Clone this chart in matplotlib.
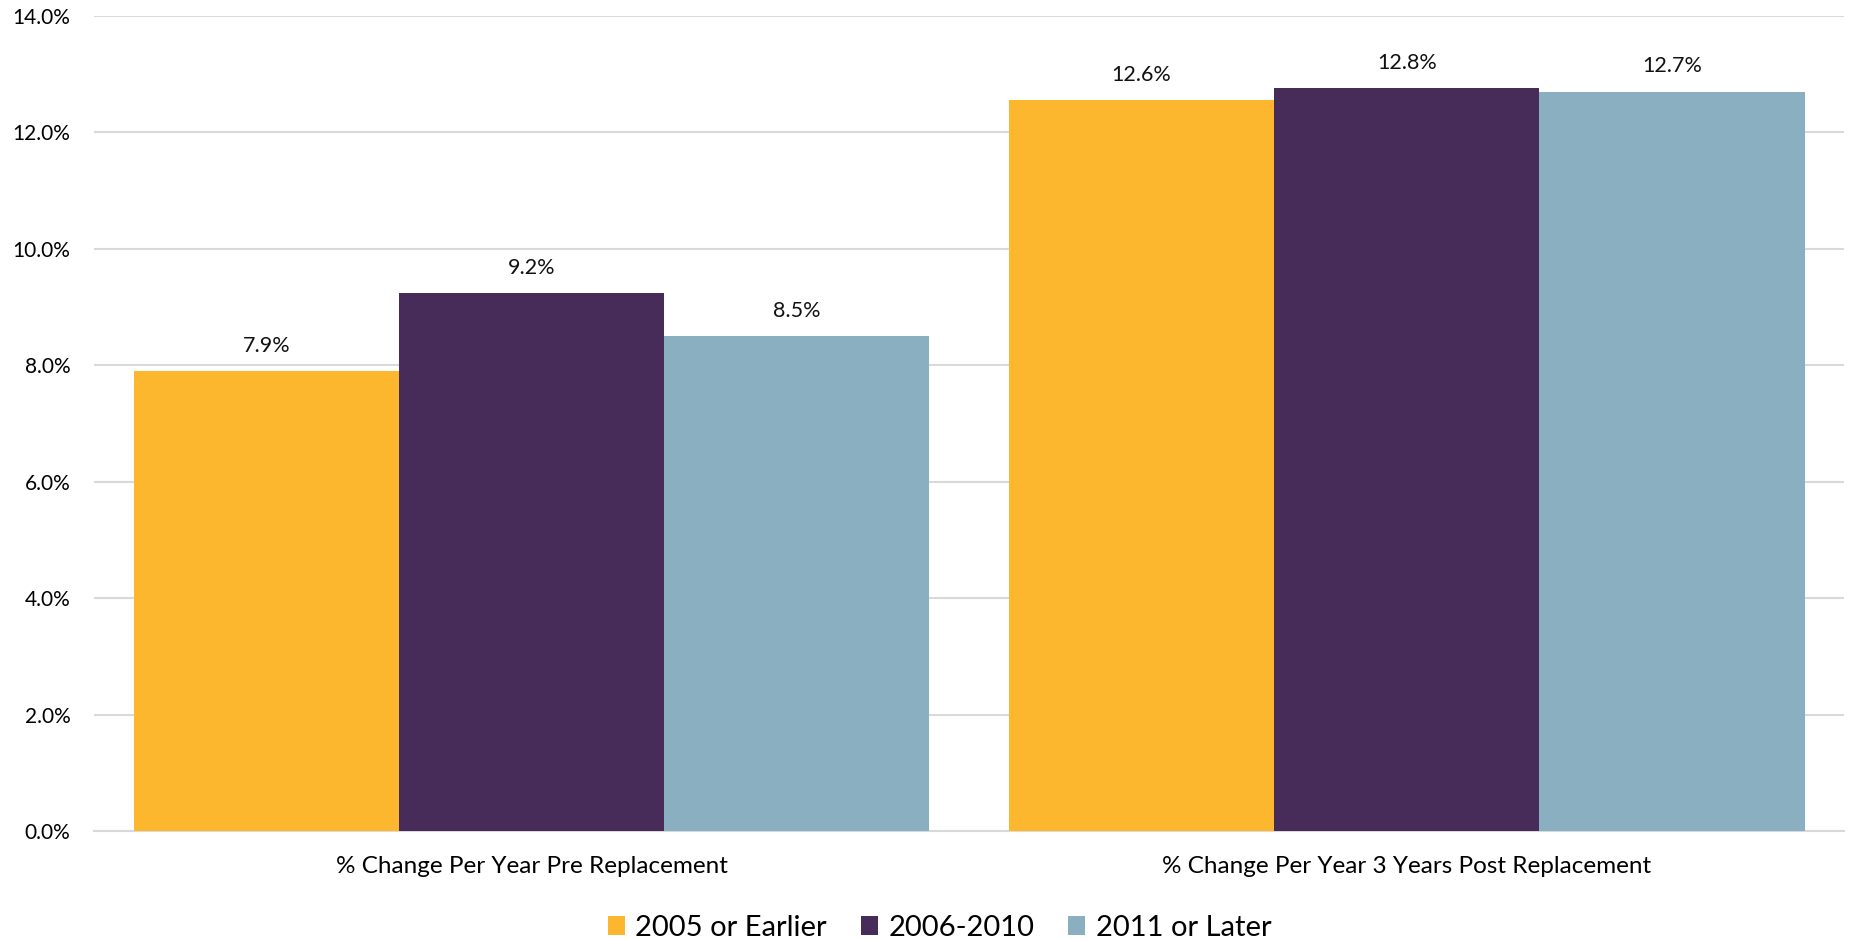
import numpy as np
import matplotlib
matplotlib.use("Agg")
from matplotlib import pyplot as plt

plt.rcParams['font.family'] = ['Lato', 'DejaVu Sans']

categories = ['% Change Per Year Pre Replacement', '% Change Per Year 3 Years Post Replacement']
series_names = ['2005 or Earlier', '2006-2010', '2011 or Later']
values_2005 = [7.9, 12.56]
values_2006 = [9.24, 12.76]
values_2011 = [8.5, 12.7]
colors = ['#FDB72E', '#472C59', '#8AAFC0']
yticks = [0, 2, 4, 6, 8, 10, 12, 14]

fig = plt.figure(figsize=(18.5, 9.4), dpi=100)
ax = fig.add_axes([0.0508, 0.116, 0.9462, 0.867])

x = np.arange(len(categories))
w = 0.303
for i, (vals, name, col) in enumerate(zip([values_2005, values_2006, values_2011], series_names, colors)):
    bars = ax.bar(x + (i - 1) * w, vals, width=w, color=col, label=name, zorder=3)
    for b, v in zip(bars, vals):
        ax.annotate('%.1f%%' % v, (b.get_x() + b.get_width() / 2, v),
                    xytext=(0, 11), textcoords='offset points',
                    ha='center', va='bottom', fontsize=15.5, color='#111111')

ax.set_xlim(-0.5, 1.5)
ax.set_ylim(0, 14)
ax.set_yticks(yticks)
ax.set_yticklabels(['%.1f%%' % t for t in yticks], fontsize=15)
ax.set_xticks(x)
ax.set_xticklabels(categories, fontsize=17.5)
ax.tick_params(axis='y', length=0, pad=17)
ax.tick_params(axis='x', length=0, pad=18)
ax.grid(axis='y', color='#D9D9D9', linewidth=1.5, zorder=0)
for s in ['top', 'right', 'left']:
    ax.spines[s].set_visible(False)
ax.spines['bottom'].set_color('#D9D9D9')
ax.spines['bottom'].set_linewidth(1.5)

ax.legend(loc='lower center', bbox_to_anchor=(0.483, -0.167), ncol=3, frameon=False,
          fontsize=21, handlelength=0.6, handleheight=0.6, handletextpad=0.35, columnspacing=1.15)

fig.savefig('out.png', dpi=100)
